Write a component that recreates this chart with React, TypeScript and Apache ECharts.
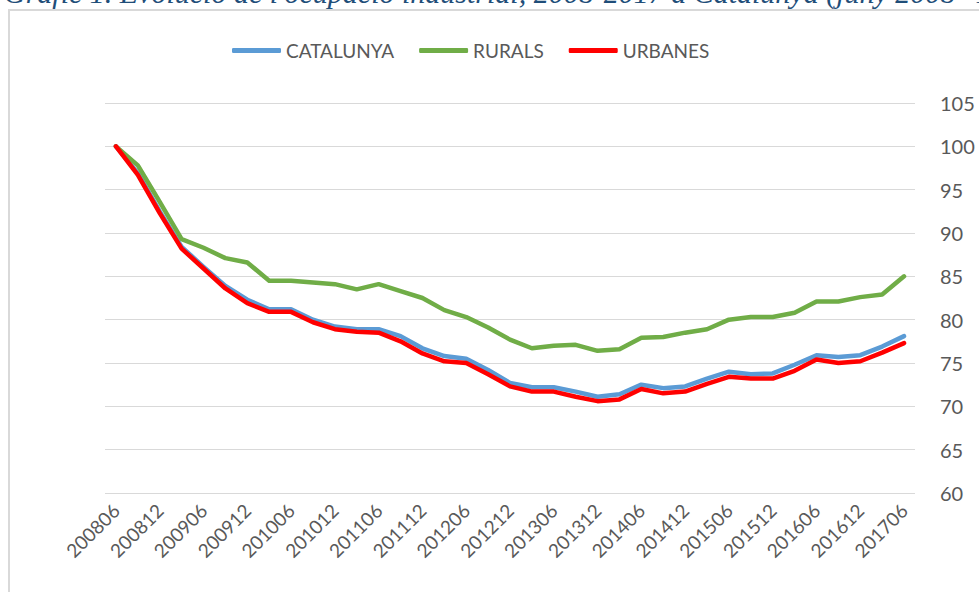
import React, { useEffect, useRef } from "react";
import * as echarts from "echarts";

const categories = [
  "200806", "200809", "200812", "200903", "200906", "200909", "200912", "201003",
  "201006", "201009", "201012", "201103", "201106", "201109", "201112", "201203",
  "201206", "201209", "201212", "201303", "201306", "201309", "201312", "201403",
  "201406", "201409", "201412", "201503", "201506", "201509", "201512", "201603",
  "201606", "201609", "201612", "201703", "201706",
];

const catalunya = [
  100, 96.9, 92.5, 88.4, 86.1, 83.9, 82.3, 81.2, 81.2, 80.0, 79.2, 78.9, 78.9,
  78.1, 76.7, 75.8, 75.5, 74.2, 72.7, 72.2, 72.2, 71.7, 71.1, 71.4, 72.5, 72.1,
  72.3, 73.2, 74.0, 73.7, 73.8, 74.8, 75.9, 75.7, 75.9, 76.9, 78.1,
];

const rurals = [
  100, 97.8, 93.6, 89.3, 88.3, 87.1, 86.6, 84.5, 84.5, 84.3, 84.1, 83.5, 84.1,
  83.3, 82.5, 81.1, 80.3, 79.1, 77.7, 76.7, 77.0, 77.1, 76.4, 76.6, 77.9, 78.0,
  78.5, 78.9, 80.0, 80.3, 80.3, 80.8, 82.1, 82.1, 82.6, 82.9, 85.0,
];

const urbanes = [
  100, 96.7, 92.3, 88.2, 85.9, 83.6, 81.9, 80.9, 80.9, 79.7, 78.9, 78.6, 78.5,
  77.5, 76.1, 75.2, 75.0, 73.7, 72.3, 71.7, 71.7, 71.1, 70.6, 70.8, 72.0, 71.5,
  71.7, 72.6, 73.4, 73.2, 73.2, 74.1, 75.4, 75.0, 75.2, 76.2, 77.3,
];

const seriesNames = ["CATALUNYA", "RURALS", "URBANES"];
const seriesColors = ["#5B9BD5", "#70AD47", "#FF0000"];
const titleText =
  "Gràfic 1. Evolució de l'ocupació industrial, 2008-2017 a Catalunya (juny 2008=100)";

export default function App() {
  const ref = useRef<HTMLDivElement>(null);

  useEffect(() => {
    document.body.style.margin = "0";
    if (!ref.current) return;
    const chart = echarts.init(ref.current, null, { renderer: "svg" });
    const data = [catalunya, rurals, urbanes];
    chart.setOption({
      animation: false,
      backgroundColor: "#ffffff",
      textStyle: { fontFamily: "Lato" },
      graphic: [
        {
          type: "rect",
          shape: { x: 9, y: 10, width: 1100, height: 700 },
          style: { fill: "none", stroke: "#d9d9d9", lineWidth: 2 },
          silent: true,
        },
        {
          type: "text",
          x: 4,
          y: 7,
          style: {
            text: titleText,
            font: "italic 30px 'Liberation Serif'",
            fill: "#1F4E79",
            verticalAlign: "bottom",
          },
          silent: true,
        },
      ],
      legend: {
        left: 227,
        top: 36,
        icon: "roundRect",
        itemWidth: 49,
        itemHeight: 5,
        itemGap: 25,
        textStyle: { color: "#595959", fontSize: 19, fontFamily: "Lato" },
        data: seriesNames,
      },
      grid: {
        left: 105,
        right: 64,
        top: 103,
        bottom: 99,
        outerBoundsMode: "none",
      },
      xAxis: {
        type: "category",
        data: categories,
        boundaryGap: true,
        axisLine: { show: false },
        axisTick: { show: false },
        axisLabel: {
          interval: 1,
          rotate: 45,
          color: "#595959",
          fontSize: 19,
          margin: 14,
          fontFamily: "Lato",
        },
      },
      yAxis: {
        type: "value",
        position: "right",
        min: 60,
        max: 105,
        interval: 5,
        axisLine: { show: false },
        axisTick: { show: false },
        axisLabel: { color: "#595959", fontSize: 20, margin: 25, fontFamily: "Lato" },
        splitLine: { lineStyle: { color: "#d9d9d9", width: 1 } },
      },
      series: seriesNames.map((name, i) => ({
        name,
        type: "line",
        data: data[i],
        symbol: "none",
        color: seriesColors[i],
        lineStyle: { width: 4.5, color: seriesColors[i], cap: "round", join: "round" },
      })),
    });
    return () => chart.dispose();
  }, []);

  return <div ref={ref} style={{ width: 979, height: 592 }} />;
}
